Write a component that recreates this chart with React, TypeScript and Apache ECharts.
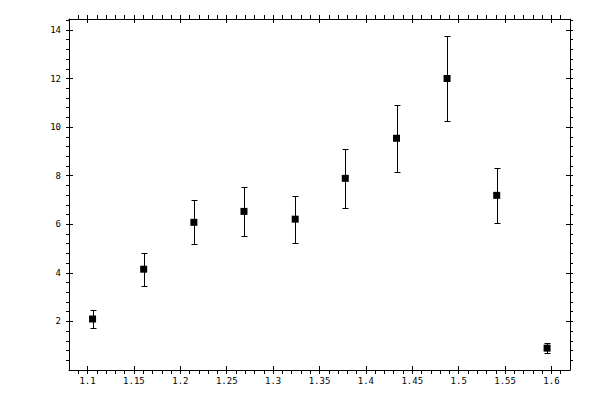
import { useEffect, useRef } from 'react';
import * as echarts from 'echarts';

// ─── Data ─────────────────────────────────────────────────────────────────────

const xValues = [1.1054, 1.1605, 1.2146, 1.2686, 1.3238, 1.3778, 1.433, 1.4875, 1.541, 1.5953];
const yValues = [2.1, 4.15, 6.08, 6.53, 6.21, 7.89, 9.54, 12.0, 7.19, 0.9];
const yErrors = [0.39, 0.68, 0.9, 1.0, 0.97, 1.21, 1.39, 1.76, 1.14, 0.22];

const xMajorTicks = [1.1, 1.15, 1.2, 1.25, 1.3, 1.35, 1.4, 1.45, 1.5, 1.55, 1.6];
const yMajorTicks = [2, 4, 6, 8, 10, 12, 14];

const X_MIN = 1.08;
const X_MAX = 1.62;
const Y_MIN = 0;
const Y_MAX = 14.45;

// minor ticks: every 0.01 on x, every 0.4 on y
const xMinorTicks: number[] = [];
for (let i = 109; i <= 161; i++) xMinorTicks.push(i / 100);
const yMinorTicks: number[] = [];
for (let i = 1; i <= 36; i++) yMinorTicks.push(Math.round(i * 0.4 * 10) / 10);

// ─── Option builder ───────────────────────────────────────────────────────────

const FONT = 'DejaVu Sans Mono';
const lineStyle = { color: '#000', width: 1 };

function xAxisDef(position: 'top' | 'bottom', ticks: number[], inside: boolean, withLine: boolean, withLabels: boolean) {
  return {
    type: 'value',
    position,
    min: X_MIN,
    max: X_MAX,
    axisLine: { show: withLine, onZero: false, lineStyle },
    axisTick: { show: true, customValues: ticks, inside, length: 4, lineStyle },
    axisLabel: withLabels
      ? {
          show: true,
          customValues: xMajorTicks,
          margin: 6,
          color: '#000',
          fontFamily: FONT,
          fontSize: 9,
          formatter: (v: number) => String(Math.round(v * 100) / 100),
        }
      : { show: false },
    splitLine: { show: false },
  };
}

function yAxisDef(position: 'left' | 'right', ticks: number[], inside: boolean, len: number, withLine: boolean, withLabels: boolean) {
  return {
    type: 'value',
    position,
    min: Y_MIN,
    max: Y_MAX,
    axisLine: { show: withLine, onZero: false, lineStyle },
    axisTick: { show: true, customValues: ticks, inside, length: len, lineStyle },
    axisLabel: withLabels
      ? {
          show: true,
          customValues: yMajorTicks,
          margin: 8,
          color: '#000',
          fontFamily: FONT,
          fontSize: 9,
        }
      : { show: false },
    splitLine: { show: false },
  };
}

function buildOption(): echarts.EChartsOption {
  const points = xValues.map((x, i) => [x, yValues[i]]);
  const bars = xValues.map((x, i) => [x, yValues[i] - yErrors[i], yValues[i] + yErrors[i]]);

  return {
    animation: false,
    backgroundColor: '#fff',
    grid: { left: 69, right: 30, top: 19, bottom: 30, containLabel: false },
    xAxis: [
      xAxisDef('bottom', xMinorTicks, false, true, true),
      xAxisDef('bottom', xMajorTicks, true, false, false),
      xAxisDef('top', xMinorTicks, false, true, false),
      xAxisDef('top', xMajorTicks, true, false, false),
    ] as any,
    yAxis: [
      yAxisDef('left', yMinorTicks, false, 3, true, true),
      yAxisDef('left', yMajorTicks, true, 4, false, false),
      yAxisDef('right', yMinorTicks, false, 3, true, false),
      yAxisDef('right', yMajorTicks, true, 4, false, false),
    ] as any,
    series: [
      {
        type: 'custom',
        xAxisIndex: 0,
        yAxisIndex: 0,
        data: bars,
        renderItem: (_params: any, api: any) => {
          const x = api.value(0);
          const top = api.coord([x, api.value(2)]);
          const bot = api.coord([x, api.value(1)]);
          // snap to the pixel grid so 1px lines stay crisp
          const cx = Math.round(top[0]) + 0.5;
          const ty = Math.round(top[1]) + 0.5;
          const by = Math.round(bot[1]) + 0.5;
          const hw = 3;
          const style = { stroke: '#000', lineWidth: 1 };
          return {
            type: 'group',
            children: [
              { type: 'line', shape: { x1: cx, y1: ty, x2: cx, y2: by }, style },
              { type: 'line', shape: { x1: cx - hw, y1: ty, x2: cx + hw, y2: ty }, style },
              { type: 'line', shape: { x1: cx - hw, y1: by, x2: cx + hw, y2: by }, style },
            ],
          };
        },
      },
      {
        type: 'scatter',
        xAxisIndex: 0,
        yAxisIndex: 0,
        data: points,
        symbol: 'rect',
        symbolSize: 7,
        itemStyle: { color: '#000', opacity: 1 },
      },
    ],
  };
}

// ─── Chart ────────────────────────────────────────────────────────────────────

export default function App() {
  const containerRef = useRef<HTMLDivElement>(null);

  useEffect(() => {
    if (!containerRef.current) return;
    const chart = echarts.init(containerRef.current, null, { renderer: 'svg' });
    chart.setOption(buildOption());
    return () => chart.dispose();
  }, []);

  return (
    <div
      ref={containerRef}
      style={{ position: 'fixed', left: 0, top: 0, width: 600, height: 400, background: '#fff' }}
    />
  );
}
